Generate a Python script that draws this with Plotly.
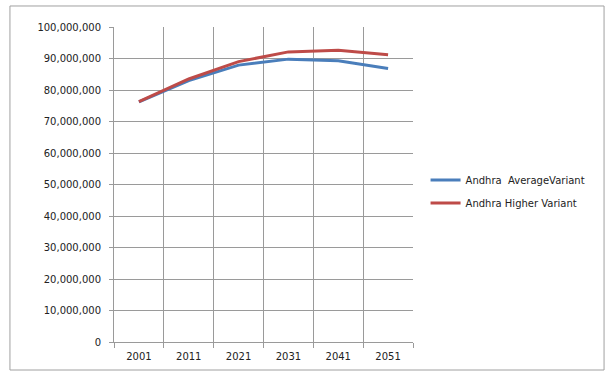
import plotly.graph_objects as go

years = ["2001", "2011", "2021", "2031", "2041", "2051"]
average_variant = [76200000, 83000000, 87900000, 89800000, 89300000, 86800000]
higher_variant = [76300000, 83500000, 89000000, 92100000, 92600000, 91200000]
series_names = ["Andhra  AverageVariant", "Andhra Higher Variant"]

grid = "#9a9a9a"
font = dict(family="DejaVu Sans, Liberation Sans, sans-serif", size=10, color="#222222")

fig = go.Figure()
fig.add_trace(go.Scatter(x=years, y=average_variant, mode="lines", name=series_names[0],
                         line=dict(color="#4a7ebb", width=3), legendgroup="a"))
fig.add_trace(go.Scatter(x=years, y=higher_variant, mode="lines", name=series_names[1],
                         line=dict(color="#be4b48", width=3), legendgroup="b"))

fig.update_layout(
    width=613, height=376,
    margin=dict(l=114, r=200, t=27, b=34),
    paper_bgcolor="white", plot_bgcolor="white",
    font=font,
    showlegend=True,
    legend=dict(x=1.042, y=0.478, xanchor="left", yanchor="middle",
                font=dict(size=10, color="#222222"), tracegroupgap=4,
                bgcolor="rgba(0,0,0,0)"),
    xaxis=dict(type="category", range=[-0.5, 5.5], tickson="boundaries",
               showgrid=True, gridcolor=grid, gridwidth=1,
               showline=True, linecolor=grid, linewidth=1,
               ticks="outside", ticklen=5, tickcolor=grid,
               ticklabelstandoff=5,
               zeroline=False, fixedrange=True),
    yaxis=dict(range=[0, 100000000], dtick=10000000, tickformat=",d",
               showgrid=True, gridcolor=grid, gridwidth=1,
               showline=True, linecolor=grid, linewidth=1,
               ticks="outside", ticklen=4, tickcolor=grid,
               ticklabelstandoff=6,
               zeroline=False, fixedrange=True),
    shapes=[dict(type="rect", xref="paper", yref="paper",
                 x0=-0.348, x1=1.639, y0=-0.0889, y1=1.0667,
                 line=dict(color="#a0a0a0", width=1), fillcolor="rgba(0,0,0,0)")],
)

fig.write_html("out.html")
